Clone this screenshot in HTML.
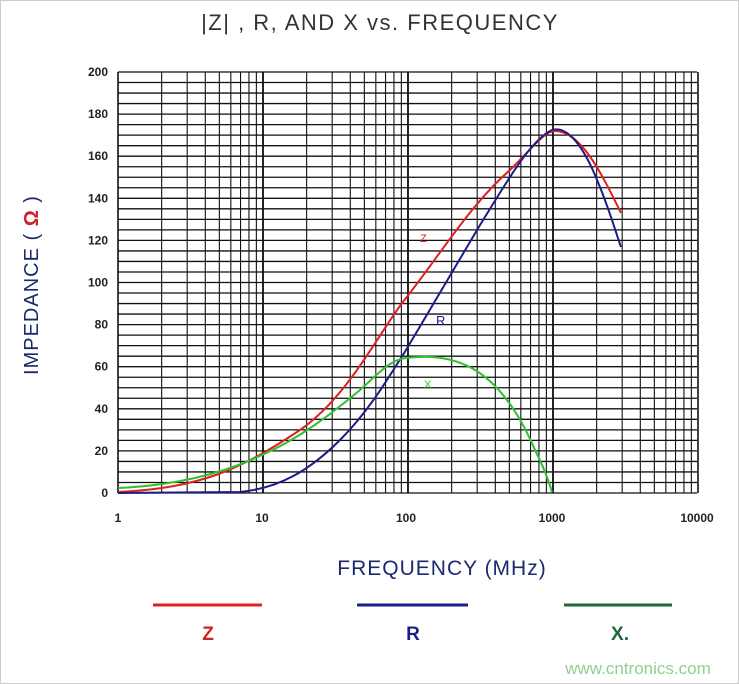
<!DOCTYPE html>
<html><head><style>
body{margin:0;background:#fff;}
svg{display:block;font-family:"Liberation Sans",sans-serif;}
</style></head><body>
<svg width="739" height="684" viewBox="0 0 739 684">
<rect x="0.5" y="0.5" width="738" height="683" fill="#fff" stroke="#ccc"/>
<text x="380" y="30" font-size="22" fill="#333" text-anchor="middle" letter-spacing="1.5">|Z| , R, AND X vs. FREQUENCY</text>
<g id="grid" stroke="#111" stroke-width="1.3"></g>
<g font-size="12" font-weight="bold" fill="#222" text-anchor="end" id="yl"></g>
<g font-size="12" font-weight="bold" fill="#222" text-anchor="middle">
<text x="118" y="522">1</text><text x="262" y="522">10</text><text x="406" y="522">100</text><text x="552" y="522">1000</text><text x="697" y="522">10000</text>
</g>
<text transform="translate(38,285) rotate(-90)" font-size="20" fill="#1a2a6e" text-anchor="middle" letter-spacing="1">IMPEDANCE ( <tspan fill="#d0202a" font-weight="bold">Ω</tspan> )</text>
<text x="442" y="575" font-size="21" fill="#1a2a6e" text-anchor="middle" letter-spacing="1">FREQUENCY (MHz)</text>
<path d="M118,492 C200,488 240,470 300,430 C350,395 380,330 406,298 C440,255 470,205 510,170 C535,145 545,131 555,131 C580,131 600,170 621,213" fill="none" stroke="#e02020" stroke-width="2"/>
<path d="M118,493 L240,492 C280,488 310,470 340,440 C370,410 390,375 406,350 C430,310 450,275 480,225 C505,185 530,140 552,130 C565,126 580,140 595,175 C608,205 615,230 621,247" fill="none" stroke="#1c1c8a" stroke-width="2"/>
<path d="M118,488 C170,486 220,475 262,455 C300,438 330,415 360,390 C380,372 390,360 406,358 C425,356 450,355 475,370 C500,385 520,415 535,450 C545,470 550,485 552,492" fill="none" stroke="#30c030" stroke-width="2"/>
<text x="420" y="242" font-size="11" fill="#e02020">Z</text>
<text x="436" y="325" font-size="13" fill="#1c1c8a">R</text>
<text x="424" y="388" font-size="11" fill="#30c030">X</text>
<line x1="153" y1="605" x2="262" y2="605" stroke="#e02020" stroke-width="3"/>
<line x1="357" y1="605" x2="468" y2="605" stroke="#1c1c8a" stroke-width="3"/>
<line x1="564" y1="605" x2="672" y2="605" stroke="#1c6a3a" stroke-width="3"/>
<text x="208" y="640" font-size="19" font-weight="bold" fill="#d0202a" text-anchor="middle">Z</text>
<text x="413" y="640" font-size="19" font-weight="bold" fill="#1c1c8a" text-anchor="middle">R</text>
<text x="620" y="640" font-size="19" font-weight="bold" fill="#1c6a3a" text-anchor="middle">X.</text>
<text x="638" y="674" font-size="17" fill="#8fd08f" text-anchor="middle">www.cntronics.com</text>
</svg>
<script>
var ns="http://www.w3.org/2000/svg",g=document.getElementById("grid"),yl=document.getElementById("yl");
function L(a,b,c,d,w){var l=document.createElementNS(ns,"line");l.setAttribute("x1",a);l.setAttribute("y1",b);l.setAttribute("x2",c);l.setAttribute("y2",d);if(w)l.setAttribute("stroke-width",w);g.appendChild(l);}
for(var v=0;v<=200;v+=5){var y=493-v*2.105;L(118,y,697,y);}
for(var d=0;d<4;d++)for(var k=1;k<=10;k++){var x=118+145*(d+Math.log10(k));L(x,72,x,493,k==1||k==10?1.6:1.1);}
for(var v=0;v<=200;v+=20){var t=document.createElementNS(ns,"text");t.setAttribute("x",108);t.setAttribute("y",493-v*2.105+4);t.textContent=v;yl.appendChild(t);}
</script>
</body></html>
